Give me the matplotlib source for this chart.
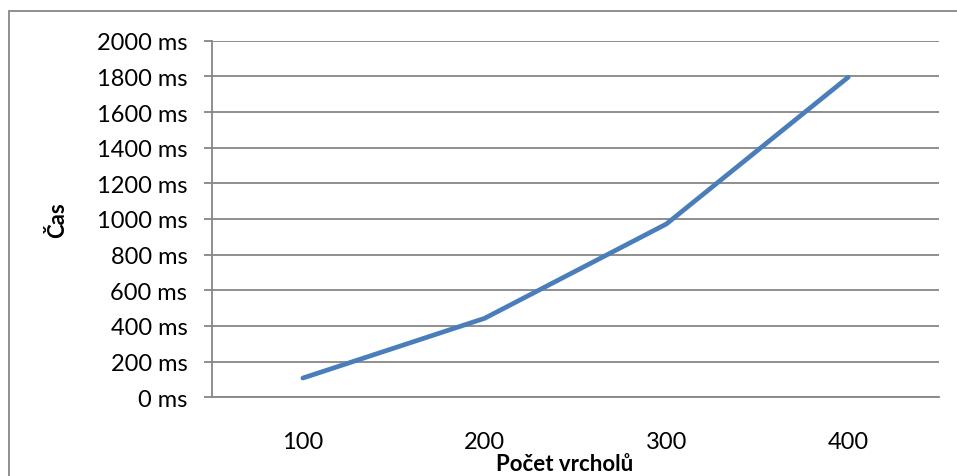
import matplotlib.pyplot as plt
from matplotlib.patches import Rectangle
from matplotlib.ticker import FuncFormatter

# data
categories = ['100', '200', '300', '400']
times_ms = [108, 443, 972, 1795]

y_ticks = list(range(0, 2001, 200))

plt.rcParams['font.family'] = ['Lato', 'DejaVu Sans']

fig = plt.figure(figsize=(9.57, 4.77), dpi=100)

# outer chart frame (runs off the right and bottom edges, as in the source)
fig.patches.append(Rectangle((9 / 957, -0.1), 1.2, 0.1 + (1 - 12 / 477),
                             transform=fig.transFigure, fill=False,
                             edgecolor='#868686', linewidth=1.3))

ax = fig.add_axes([212 / 957, 1 - 398.3 / 477, 727 / 957, 356.6 / 477])

x = range(len(categories))
ax.plot(x, times_ms, color='#4A7EBB', linewidth=3.4, solid_capstyle='round')

ax.set_xlim(-0.5, len(categories) - 0.5)
ax.set_ylim(0, 2000)
ax.set_xticks(list(x))
ax.set_xticklabels(categories)
ax.set_yticks(y_ticks)
ax.yaxis.set_major_formatter(FuncFormatter(lambda v, p: f'{int(v)} ms'))

ax.grid(axis='y', color='#868686', linewidth=1.3)
ax.set_axisbelow(True)
for s in ['top', 'right']:
    ax.spines[s].set_visible(False)
for s in ['left', 'bottom']:
    ax.spines[s].set_color('#868686')
    ax.spines[s].set_linewidth(1.3)

ax.tick_params(axis='y', length=5.8, width=1.3, color='#868686', pad=12,
               labelsize=17, labelcolor='black')
ax.tick_params(axis='x', length=0, pad=24, labelsize=17, labelcolor='black')

fig.text(565 / 957, 1 - 465 / 477, 'Počet vrcholů', ha='center', va='center',
         fontsize=16, fontweight='bold')
fig.text(58 / 957, 1 - 220 / 477, 'Čas', ha='center', va='center',
         rotation=90, fontsize=16, fontweight='bold')

fig.savefig('out.png', dpi=100)
